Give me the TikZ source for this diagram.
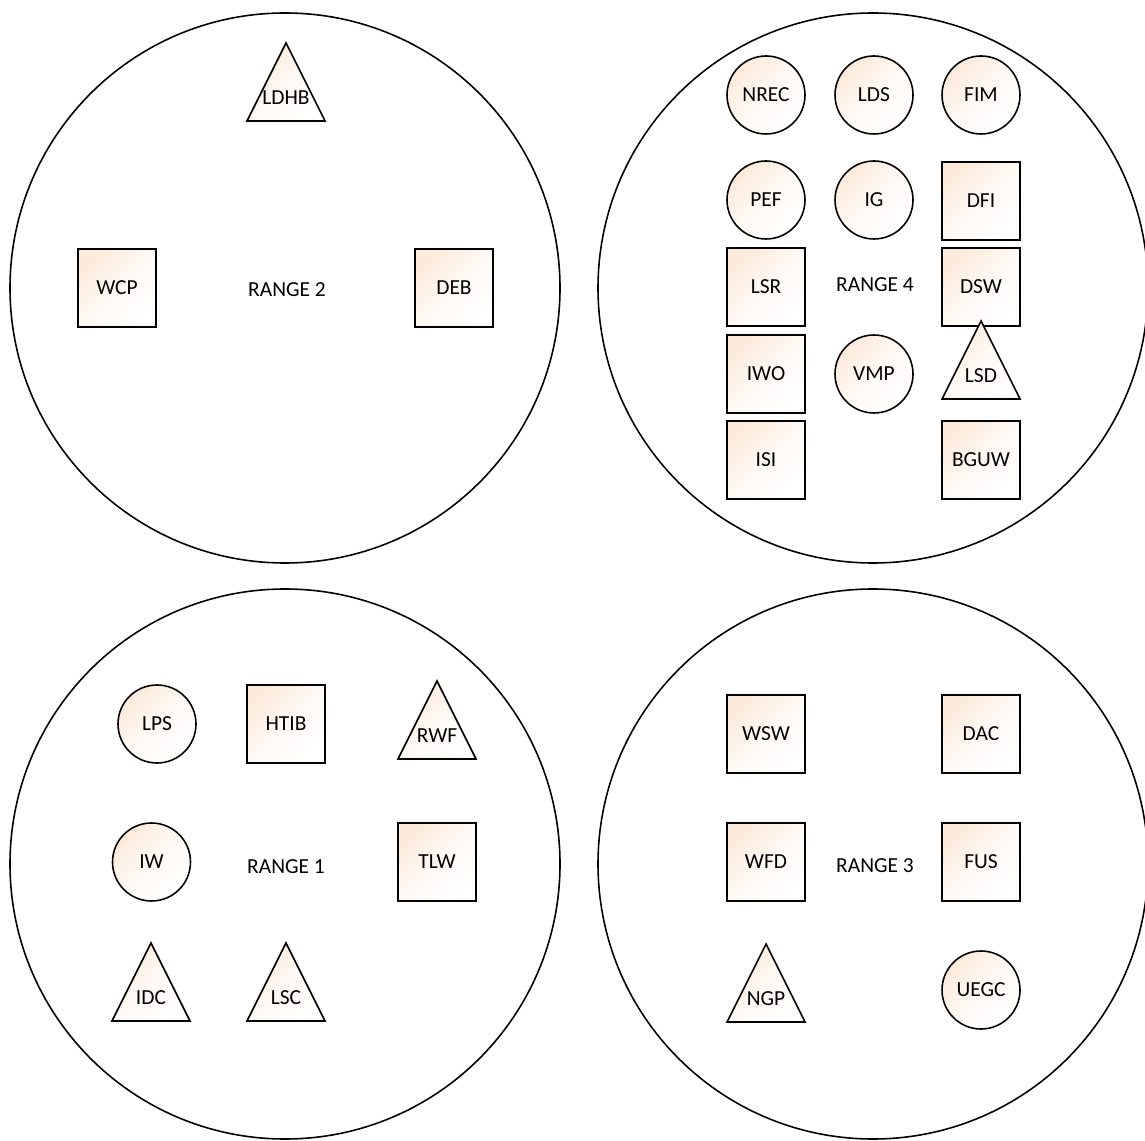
\documentclass[tikz,border=0pt]{standalone}
\usepackage{fontspec}
\setmainfont{Carlito}
\usetikzlibrary{shapes.geometric}
\definecolor{peach}{RGB}{252,234,218}

\begin{document}
\begin{tikzpicture}[font=\fontsize{12.2}{14}\selectfont,line width=0.9pt,
  rng/.style={draw,circle,minimum size=11cm,inner sep=0pt},
  shd/.style={top color=peach,bottom color=white,middle color=white!70!peach,shading angle=45},
  sq/.style={draw,shd,rectangle,minimum size=1.56cm,inner sep=0pt},
  cr/.style={draw,shd,circle,minimum size=1.56cm,inner sep=0pt},
  tr/.style={inner sep=0pt}]
\useasboundingbox (0,0) rectangle (22.900,22.800);
\newcommand{\tri}[4]{% name, x, base y, text
  \draw[shd] (#2-0.780,#3) -- (#2,#3+1.560) -- (#2+0.780,#3) -- cycle;
  \node[tr] (#1) at (#2,#3+0.460) {#4};}
% the four ranges
\node[rng] (r2) at (5.700,17.040) {};
\node[rng] (r4) at (17.460,17.040) {};
\node[rng] (r1) at (5.700,5.520) {};
\node[rng] (r3) at (17.460,5.520) {};
\node (t2) at (5.740,17.000) {RANGE 2};
\node (t4) at (17.500,17.100) {RANGE 4};
\node (t1) at (5.720,5.460) {RANGE 1};
\node (t3) at (17.500,5.480) {RANGE 3};
% range 2
\tri{ldhb}{5.720}{20.380}{LDHB}
\node[sq] (wcp) at (2.340,17.040) {WCP};
\node[sq] (deb) at (9.080,17.040) {DEB};
% range 4
\node[cr] (nrec) at (15.320,20.900) {NREC};
\node[cr] (lds) at (17.480,20.900) {LDS};
\node[cr] (fim) at (19.620,20.900) {FIM};
\node[cr] (pef) at (15.320,18.800) {PEF};
\node[cr] (ig) at (17.480,18.800) {IG};
\node[sq] (dfi) at (19.620,18.780) {DFI};
\node[sq] (lsr) at (15.320,17.060) {LSR};
\node[sq] (dsw) at (19.620,17.060) {DSW};
\node[sq] (iwo) at (15.320,15.320) {IWO};
\node[cr] (vmp) at (17.480,15.320) {VMP};
\tri{lsd}{19.620}{14.820}{LSD}
\node[sq] (isi) at (15.320,13.600) {ISI};
\node[sq] (bguw) at (19.620,13.600) {BGUW};
% range 1
\node[cr] (lps) at (3.140,8.320) {LPS};
\node[sq] (htib) at (5.720,8.320) {HTIB};
\tri{rwf}{8.740}{7.620}{RWF}
\node[cr] (iw) at (3.030,5.560) {IW};
\node[sq] (tlw) at (8.740,5.560) {TLW};
\tri{idc}{3.020}{2.380}{IDC}
\tri{lsc}{5.720}{2.380}{LSC}
% range 3
\node[sq] (wsw) at (15.320,8.120) {WSW};
\node[sq] (dac) at (19.620,8.120) {DAC};
\node[sq] (wfd) at (15.320,5.560) {WFD};
\node[sq] (fus) at (19.620,5.560) {FUS};
\tri{ngp}{15.320}{2.360}{NGP}
\node[cr] (uegc) at (19.620,3.000) {UEGC};
\end{tikzpicture}
\end{document}
